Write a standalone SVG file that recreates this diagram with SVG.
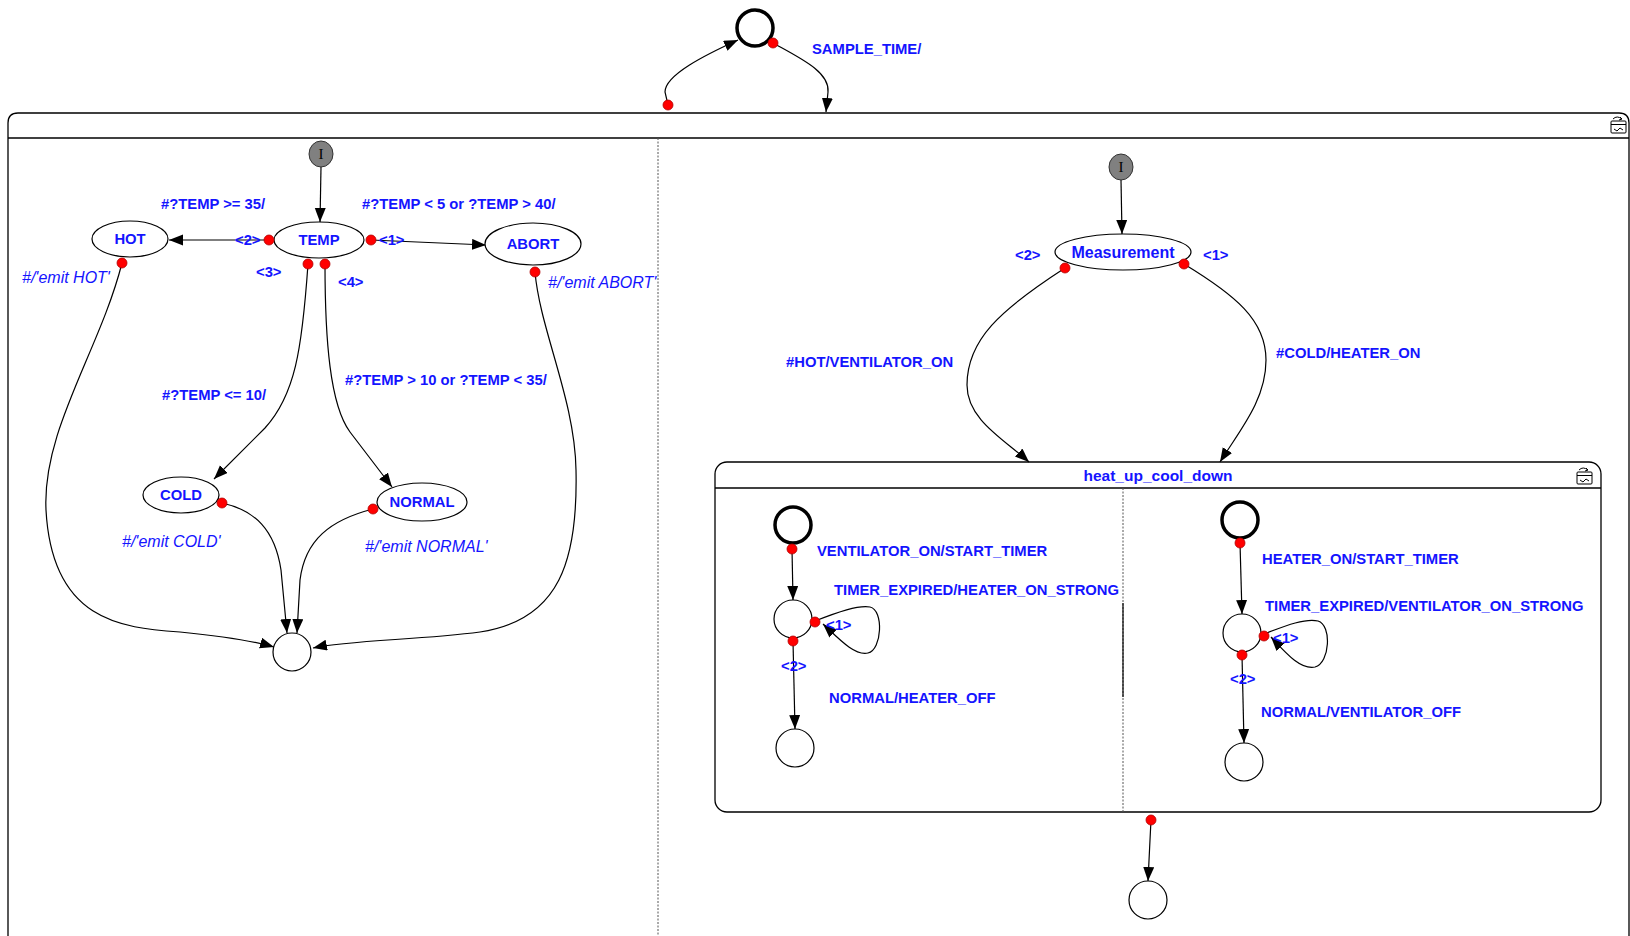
<svg xmlns="http://www.w3.org/2000/svg" width="1630" height="936" viewBox="0 0 1630 936">
<style>
.lbl{font-family:"Liberation Sans",Arial,sans-serif;font-weight:bold;font-size:14.8px;fill:#1414ff}
.nm{text-anchor:middle}
.em{font-family:"Liberation Sans",Arial,sans-serif;font-style:italic;font-size:16px;fill:#1414ff}
.st{fill:#fff;stroke:#000;stroke-width:1.2}
.init{fill:#fff;stroke:#000;stroke-width:3.5}
.ini{fill:#808080;stroke:#333;stroke-width:1}
.itx{font-family:"Liberation Serif",serif;font-size:15px;fill:#000;text-anchor:middle}
.dot{fill:#ff0000;stroke:#b00000;stroke-width:0.8}
.edge{fill:none;stroke:#000;stroke-width:1.2;marker-end:url(#ah)}
.frame{fill:none;stroke:#000;stroke-width:1.3}
.div{stroke:#555;stroke-width:1;stroke-dasharray:2,1.5}
.icon{fill:none;stroke:#000;stroke-width:1}
</style>
<defs>
<marker id="ah" markerUnits="userSpaceOnUse" markerWidth="16" markerHeight="12" refX="14" refY="5.5" orient="auto"><path d="M0,0 L14,5.5 L0,11 z" fill="#000"/></marker>
</defs>
<rect width="1630" height="936" fill="#fff"/>

<g id="frame">
<path class="frame" d="M8,948 L8,123 Q8,113 18,113 L1619,113 Q1629,113 1629,123 L1629,948"/>
<path class="frame" d="M8,138 L1629,138"/>
<line class="div" x1="658" y1="138" x2="658" y2="936"/>
<g class="icon"><rect x="1611" y="121" width="15" height="12" rx="1"/><path d="M1611,124.5 H1626"/><path d="M1614,129 l3,2 l3,-3 l3,2"/><path d="M1613,119 q4,-4 9,0 M1622,119 l-2,-2 M1622,119 l-3,1"/></g>
</g>

<g id="heat_up_cool_down">
<rect class="frame" x="715" y="462" width="886" height="350" rx="12"/>
<path class="frame" d="M715,488 H1601"/>
<line class="div" x1="1123" y1="488" x2="1123" y2="812"/>
<line x1="1123" y1="603" x2="1123" y2="697" stroke="#000" stroke-width="1.2"/>
<text class="lbl nm" x="1158" y="481" style="font-size:15.5px">heat_up_cool_down</text>
<g class="icon"><rect x="1577" y="472" width="15" height="12" rx="1"/><path d="M1577,475.5 H1592"/><path d="M1580,480 l3,2 l3,-3 l3,2"/><path d="M1579,470 q4,-4 9,0 M1588,470 l-2,-2 M1588,470 l-3,1"/></g>
</g>

<g id="connectors">
<path class="edge" d="M668,105 L665,92 C665,75 705,55 738,40"/>
<path class="edge" d="M773,43 C800,58 830,72 828,92 L826,112"/>
<path class="edge" d="M321,167 L320,222"/>
<path class="edge" d="M269,240 L169,240"/>
<path class="edge" d="M371,240 L486,245"/>
<path class="edge" d="M308,264 C302,350 295,395 265,428 L214,479"/>
<path class="edge" d="M325,264 C325,340 330,405 350,432 L392,487"/>
<path class="edge" d="M122,263 C100,350 42,430 46,510 C52,620 120,628 180,632 C220,636 250,640 274,647"/>
<path class="edge" d="M535,272 C540,330 575,400 576,470 C578,560 560,620 480,632 C420,640 350,640 313,648"/>
<path class="edge" d="M222,503 C255,510 275,530 281,570 L287,633"/>
<path class="edge" d="M373,509 C330,520 305,540 300,580 L297,633"/>
<path class="edge" d="M1121,180 L1122,234"/>
<path class="edge" d="M1065,268 C1000,310 967,340 967,385 C967,420 1005,440 1029,462"/>
<path class="edge" d="M1184,264 C1235,295 1266,320 1266,360 C1266,400 1240,430 1220,462"/>
<path class="edge" d="M792,549 L793,600"/>
<path class="edge" d="M815,621 C838,612 858,605 870,607 C884,610 882,650 868,653 C855,656 840,640 823,624"/>
<path class="edge" d="M793,641 L795,729"/>
<path class="edge" d="M1240,543 L1242,614"/>
<path class="edge" d="M1264,634 C1285,626 1305,618 1318,621 C1332,625 1330,663 1315,667 C1300,670 1285,652 1271,637"/>
<path class="edge" d="M1242,655 L1244,743"/>
<path class="edge" d="M1151,820 L1150,840 L1148,881"/>
</g>

<g id="labels">
<text class="lbl" x="812" y="54">SAMPLE_TIME/</text>
<text class="lbl" x="161" y="209">#?TEMP &gt;= 35/</text>
<text class="lbl" x="362" y="209">#?TEMP &lt; 5 or ?TEMP &gt; 40/</text>
<text class="lbl" x="235" y="245">&lt;2&gt;</text>
<text class="lbl" x="379" y="245">&lt;1&gt;</text>
<text class="lbl" x="256" y="277">&lt;3&gt;</text>
<text class="lbl" x="338" y="287">&lt;4&gt;</text>
<text class="em" x="22" y="283">#/'emit HOT'</text>
<text class="em" x="548" y="288">#/'emit ABORT'</text>
<text class="lbl" x="162" y="400">#?TEMP &lt;= 10/</text>
<text class="lbl" x="345" y="385">#?TEMP &gt; 10 or ?TEMP &lt; 35/</text>
<text class="em" x="122" y="547">#/'emit COLD'</text>
<text class="em" x="365" y="552">#/'emit NORMAL'</text>
<text class="lbl" x="1015" y="260">&lt;2&gt;</text>
<text class="lbl" x="1203" y="260">&lt;1&gt;</text>
<text class="lbl" x="786" y="367">#HOT/VENTILATOR_ON</text>
<text class="lbl" x="1276" y="358">#COLD/HEATER_ON</text>
<text class="lbl" x="817" y="556">VENTILATOR_ON/START_TIMER</text>
<text class="lbl" x="834" y="595">TIMER_EXPIRED/HEATER_ON_STRONG</text>
<text class="lbl" x="826" y="630">&lt;1&gt;</text>
<text class="lbl" x="781" y="671">&lt;2&gt;</text>
<text class="lbl" x="829" y="703">NORMAL/HEATER_OFF</text>
<text class="lbl" x="1262" y="564">HEATER_ON/START_TIMER</text>
<text class="lbl" x="1265" y="611">TIMER_EXPIRED/VENTILATOR_ON_STRONG</text>
<text class="lbl" x="1273" y="643">&lt;1&gt;</text>
<text class="lbl" x="1230" y="684">&lt;2&gt;</text>
<text class="lbl" x="1261" y="717">NORMAL/VENTILATOR_OFF</text>
</g>

<g id="top_init"><circle class="init" cx="755" cy="28" r="18"/></g>
<g id="init_left"><ellipse class="ini" cx="321" cy="154" rx="12" ry="13"/><text class="itx" x="321" y="159">I</text></g>
<g id="TEMP"><ellipse class="st" cx="319" cy="240" rx="45" ry="18"/><text class="lbl nm" x="319" y="245">TEMP</text></g>
<g id="HOT"><ellipse class="st" cx="130" cy="239" rx="38" ry="18"/><text class="lbl nm" x="130" y="244">HOT</text></g>
<g id="ABORT"><ellipse class="st" cx="533" cy="244" rx="48" ry="21"/><text class="lbl nm" x="533" y="249">ABORT</text></g>
<g id="COLD"><ellipse class="st" cx="181" cy="495" rx="38" ry="18"/><text class="lbl nm" x="181" y="500">COLD</text></g>
<g id="NORMAL"><ellipse class="st" cx="422" cy="502" rx="45" ry="19"/><text class="lbl nm" x="422" y="507">NORMAL</text></g>
<g id="final_left"><circle class="st" cx="292" cy="652" r="19"/></g>
<g id="init_right"><ellipse class="ini" cx="1121" cy="167" rx="12" ry="13"/><text class="itx" x="1121" y="172">I</text></g>
<g id="Measurement"><ellipse class="st" cx="1123" cy="252" rx="68" ry="18"/><text class="lbl nm" x="1123" y="258" style="font-size:16px">Measurement</text></g>
<g id="v_init"><circle class="init" cx="793" cy="525" r="18"/></g>
<g id="v_timer"><circle class="st" cx="793" cy="619" r="19"/></g>
<g id="v_final"><circle class="st" cx="795" cy="748" r="19"/></g>
<g id="h_init"><circle class="init" cx="1240" cy="520" r="18"/></g>
<g id="h_timer"><circle class="st" cx="1242" cy="633" r="19"/></g>
<g id="h_final"><circle class="st" cx="1244" cy="762" r="19"/></g>
<g id="final_bottom"><circle class="st" cx="1148" cy="900" r="19"/></g>

<g id="ports">
<circle class="dot" cx="773" cy="43" r="5"/>
<circle class="dot" cx="668" cy="105" r="5"/>
<circle class="dot" cx="269" cy="240" r="5"/>
<circle class="dot" cx="371" cy="240" r="5"/>
<circle class="dot" cx="308" cy="264" r="5"/>
<circle class="dot" cx="325" cy="264" r="5"/>
<circle class="dot" cx="122" cy="263" r="5"/>
<circle class="dot" cx="535" cy="272" r="5"/>
<circle class="dot" cx="222" cy="503" r="5"/>
<circle class="dot" cx="373" cy="509" r="5"/>
<circle class="dot" cx="1065" cy="268" r="5"/>
<circle class="dot" cx="1184" cy="264" r="5"/>
<circle class="dot" cx="792" cy="549" r="5"/>
<circle class="dot" cx="815" cy="622" r="5"/>
<circle class="dot" cx="793" cy="641" r="5"/>
<circle class="dot" cx="1240" cy="543" r="5"/>
<circle class="dot" cx="1264" cy="636" r="5"/>
<circle class="dot" cx="1242" cy="655" r="5"/>
<circle class="dot" cx="1151" cy="820" r="5"/>
</g>
</svg>
